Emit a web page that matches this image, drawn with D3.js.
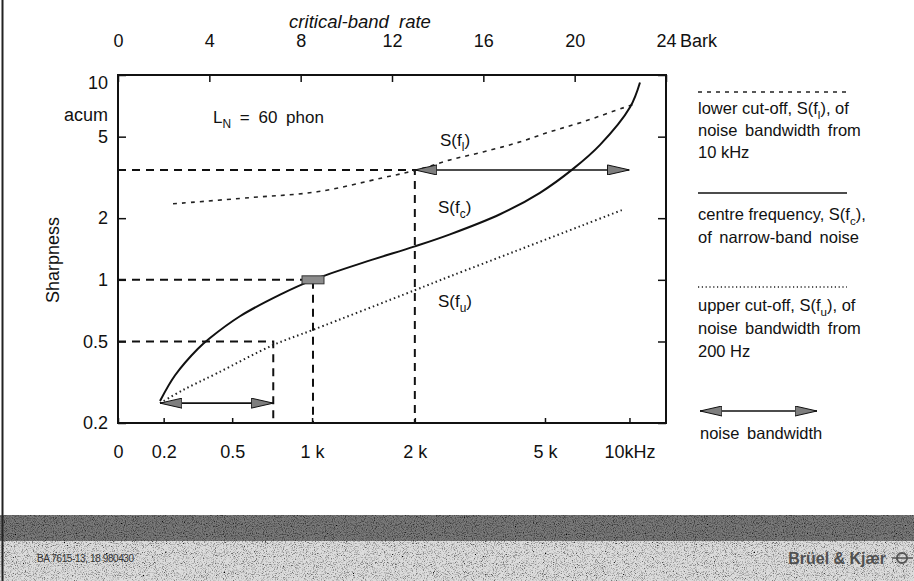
<!DOCTYPE html>
<html><head><meta charset="utf-8">
<script src="https://cdn.jsdelivr.net/npm/d3@7"></script>
<style>
html,body{margin:0;padding:0;background:#fff;}
svg{display:block;font-family:"Liberation Sans",Arial,Helvetica,sans-serif;}
</style></head>
<body><svg id="c" width="914" height="581"></svg>
<script>
// ---- data ----
const barkTicks = [0, 4, 8, 12, 16, 20, 24];
const freqTickLabels = ["0", "0.2", "0.5", "1 k", "2 k", "5 k", "10kHz"];
const freqTickBark = [0, 2, 5, 8.5, 13, 18.7, 22.4];
const sharpTicks = [0.2, 0.5, 1, 2, 5, 10];
const sharpTickLabels = ["0.2", "0.5", "1", "2", "5", "10"];

// centre frequency S(fc)
const fcBark  = [1.84, 2.5, 3.5, 4.03, 5.34, 7.1, 8.54, 10.9, 13.0, 14.54, 16.73, 18.48, 19.93, 21.11, 22.43, 22.86];
const fcSharp = [0.256, 0.342, 0.461, 0.52, 0.664, 0.847, 1.0, 1.23, 1.456, 1.667, 2.09, 2.66, 3.48, 4.56, 6.98, 9.2];
// lower cut-off S(fl)
const flBark  = [2.41, 5.78, 8.72, 11.6, 13.1, 14.54, 15.99, 17.48, 18.92, 20.37, 22.12, 22.6];
const flSharp = [2.35, 2.52, 2.69, 3.15, 3.44, 3.85, 4.21, 4.67, 5.28, 5.91, 6.91, 7.2];
// upper cut-off S(fu)
const fuBark  = [1.84, 2.85, 4.34, 6.79, 8.54, 13.0, 14.54, 17.48, 20.37, 22.12];
const fuSharp = [0.25, 0.29, 0.35, 0.48, 0.57, 0.89, 1.04, 1.39, 1.85, 2.2];

// reference (dashed) readings: [bark, sharpness]
const refPoints = [[13.0, 3.44], [8.54, 1.0], [6.8, 0.5]];
// noise bandwidth arrows: [barkFrom, barkTo, sharpness]
const bandArrows = [[13.0, 22.4, 3.44], [1.84, 6.8, 0.25]];
const markerPoint = [8.54, 1.0];

// ---- scales ----
const svg = d3.select("#c");
const x = d3.scaleLinear().domain([0, 24]).range([118, 666]);
const y = d3.scaleLog().domain([0.2, 10]).range([423, 75]);
const FONT_AX = 18;

// defs: arrow markers, noise filters
const defs = svg.append("defs");
defs.append("marker").attr("id", "ah").attr("viewBox", "0 0 22 11")
  .attr("refX", 22).attr("refY", 5.5).attr("markerWidth", 22).attr("markerHeight", 11)
  .attr("markerUnits", "userSpaceOnUse").attr("orient", "auto-start-reverse")
  .append("path").attr("d", "M0,0.5 L22,5.5 L0,10.5 Z")
  .attr("fill", "#7e7e7e").attr("stroke", "#111").attr("stroke-width", 1);
function noiseFilter(id, freq, seed, a, b) {
  const f = defs.append("filter").attr("id", id).attr("x", 0).attr("y", 0).attr("width", 1).attr("height", 1);
  f.append("feTurbulence").attr("type", "fractalNoise").attr("baseFrequency", freq).attr("numOctaves", 2).attr("seed", seed).attr("result", "t");
  f.append("feColorMatrix").attr("in", "t").attr("type", "matrix")
    .attr("values", `0 0 0 0 0  0 0 0 0 0  0 0 0 0 0  0 0 0 ${a} ${b}`).attr("result", "m");
  f.append("feComposite").attr("in", "m").attr("in2", "SourceGraphic").attr("operator", "in").attr("result", "n");
  f.append("feMerge").call(s => { s.append("feMergeNode").attr("in", "SourceGraphic"); s.append("feMergeNode").attr("in", "n"); });
}
noiseFilter("noise", 0.9, 3, 2.2, -0.9);
noiseFilter("noise2", 1.1, 7, 2.6, -1.25);

// ---- footer ----
svg.append("rect").attr("x", 0).attr("y", 515).attr("width", 914).attr("height", 26)
  .attr("fill", "#7a7a7a").attr("filter", "url(#noise)");
svg.append("rect").attr("x", 0).attr("y", 541).attr("width", 914).attr("height", 40)
  .attr("fill", "#dcdcdc").attr("filter", "url(#noise2)");
svg.append("text").attr("x", 37).attr("y", 562).attr("font-size", 10).attr("fill", "#333")
  .attr("letter-spacing", -0.4).text("BA 7615-13, 18   980430");
svg.append("text").attr("x", 886).attr("y", 564).attr("text-anchor", "end").attr("font-size", 16).attr("font-weight", "bold")
  .attr("fill", "#505050").text("Brüel & Kjær");
svg.append("circle").attr("cx", 902).attr("cy", 558).attr("r", 5).attr("fill", "none").attr("stroke", "#555").attr("stroke-width", 2);
svg.append("line").attr("x1", 892).attr("x2", 913).attr("y1", 558).attr("y2", 558).attr("stroke", "#555").attr("stroke-width", 1.5);
// left page edge
svg.append("line").attr("x1", 2.5).attr("x2", 2.5).attr("y1", 0).attr("y2", 581).attr("stroke", "#222").attr("stroke-width", 2);

// ---- axes ----
const gL = svg.append("g").attr("transform", `translate(${x(0)},0)`)
  .call(d3.axisLeft(y).tickValues(sharpTicks).tickFormat((d, i) => sharpTickLabels[i])
    .tickSizeInner(-8).tickSizeOuter(0).tickPadding(10));
gL.selectAll("text").filter(d => d === 10).attr("transform", "translate(0,8)");
const gR = svg.append("g").attr("transform", `translate(${x(24)},0)`)
  .call(d3.axisRight(y).tickValues(sharpTicks).tickFormat("").tickSizeInner(-8).tickSizeOuter(0));
const gT = svg.append("g").attr("transform", `translate(0,${y(10)})`)
  .call(d3.axisTop(x).tickValues(barkTicks).tickSizeInner(-7).tickSizeOuter(0).tickPadding(28));
const gB = svg.append("g").attr("transform", `translate(0,${y(0.2)})`)
  .call(d3.axisBottom(x).tickValues(freqTickBark).tickFormat((d, i) => freqTickLabels[i])
    .tickSizeInner(-5).tickSizeOuter(0).tickPadding(22));
[gL, gR, gT, gB].forEach(g => {
  g.select(".domain").remove();
  g.selectAll("line").attr("stroke", "#111").attr("stroke-width", 1.5);
  g.selectAll("text").attr("font-size", FONT_AX).attr("fill", "#111")
    .attr("font-family", '"Liberation Sans",Arial,sans-serif');
});
svg.append("rect").attr("x", x(0)).attr("y", y(10)).attr("width", x(24) - x(0)).attr("height", y(0.2) - y(10))
  .attr("fill", "none").attr("stroke", "#111").attr("stroke-width", 2);

svg.append("text").attr("x", 680).attr("y", 47).attr("font-size", FONT_AX).attr("fill", "#111").text("Bark");
svg.append("text").attr("x", 360).attr("y", 28).attr("text-anchor", "middle").attr("font-size", 18.5)
  .attr("font-style", "italic").attr("word-spacing", 5).attr("fill", "#111").text("critical-band rate");
svg.append("text").attr("x", 108).attr("y", 121).attr("text-anchor", "end").attr("font-size", FONT_AX)
  .attr("fill", "#111").text("acum");
svg.append("text").attr("transform", "translate(59,260) rotate(-90)").attr("text-anchor", "middle")
  .attr("font-size", FONT_AX).attr("fill", "#111").text("Sharpness");

// ---- reference dashed lines ----
refPoints.forEach(([b, s]) => {
  svg.append("path").attr("d", `M${x(0)},${y(s)}H${x(b)}V${y(0.2)}`)
    .attr("fill", "none").attr("stroke", "#111").attr("stroke-width", 2).attr("stroke-dasharray", "8,6");
});

// ---- curves ----
const line = d3.line().x(d => x(d[0])).y(d => y(d[1])).curve(d3.curveCatmullRom.alpha(0.5));
svg.append("path").attr("d", line(d3.zip(flBark, flSharp))).attr("fill", "none")
  .attr("stroke", "#222").attr("stroke-width", 1.6).attr("stroke-dasharray", "4,5");
svg.append("path").attr("d", line(d3.zip(fuBark, fuSharp))).attr("fill", "none")
  .attr("stroke", "#222").attr("stroke-width", 2).attr("stroke-dasharray", "1.5,3");
svg.append("path").attr("d", line(d3.zip(fcBark, fcSharp))).attr("fill", "none")
  .attr("stroke", "#111").attr("stroke-width", 2);

// ---- bandwidth arrows ----
bandArrows.forEach(([b0, b1, s]) => {
  svg.append("line").attr("x1", x(b0)).attr("x2", x(b1)).attr("y1", y(s)).attr("y2", y(s))
    .attr("stroke", "#111").attr("stroke-width", 1.6)
    .attr("marker-start", "url(#ah)").attr("marker-end", "url(#ah)");
});
svg.append("rect").attr("x", x(markerPoint[0]) - 11).attr("y", y(markerPoint[1]) - 4)
  .attr("width", 22).attr("height", 8).attr("fill", "#8c8c8c").attr("stroke", "#333").attr("stroke-width", 1);

// ---- in-plot labels ----
function subText(xp, yp, main, sub, tail, fs) {
  const t = svg.append("text").attr("x", xp).attr("y", yp).attr("font-size", fs).attr("fill", "#111");
  t.append("tspan").text(main);
  t.append("tspan").attr("dy", 5).attr("font-size", fs * 0.7).text(sub);
  t.append("tspan").attr("dy", -5).text(tail);
  return t;
}
subText(213, 123, "L", "N", " = 60 phon", 17).attr("word-spacing", 4);
subText(440, 146, "S(f", "l", ")", 17);
subText(438, 213, "S(f", "c", ")", 17);
subText(438, 307, "S(f", "u", ")", 17);

// ---- legend ----
const LX = 698, LFS = 16.5;
svg.append("line").attr("x1", LX).attr("x2", 847).attr("y1", 92).attr("y2", 92)
  .attr("stroke", "#222").attr("stroke-width", 1.4).attr("stroke-dasharray", "4,5");
subText(LX, 114, "lower cut-off, S(f", "l", "), of", LFS);
svg.append("text").attr("x", LX).attr("y", 136).attr("font-size", LFS).attr("fill", "#111").attr("word-spacing", 3).text("noise bandwidth from");
svg.append("text").attr("x", LX).attr("y", 158).attr("font-size", LFS).attr("fill", "#111").text("10 kHz");

svg.append("line").attr("x1", LX).attr("x2", 847).attr("y1", 193).attr("y2", 193)
  .attr("stroke", "#111").attr("stroke-width", 1.6);
subText(LX, 220, "centre frequency, S(f", "c", "),", LFS);
svg.append("text").attr("x", LX).attr("y", 243).attr("font-size", LFS).attr("fill", "#111").attr("word-spacing", 3).text("of narrow-band noise");

svg.append("line").attr("x1", LX).attr("x2", 847).attr("y1", 287).attr("y2", 287)
  .attr("stroke", "#222").attr("stroke-width", 1.6).attr("stroke-dasharray", "1.2,2.6");
subText(LX, 311, "upper cut-off, S(f", "u", "), of", LFS);
svg.append("text").attr("x", LX).attr("y", 334).attr("font-size", LFS).attr("fill", "#111").attr("word-spacing", 3).text("noise bandwidth from");
svg.append("text").attr("x", LX).attr("y", 357).attr("font-size", LFS).attr("fill", "#111").text("200 Hz");

svg.append("line").attr("x1", 700).attr("x2", 817).attr("y1", 411).attr("y2", 411)
  .attr("stroke", "#111").attr("stroke-width", 1.6)
  .attr("marker-start", "url(#ah)").attr("marker-end", "url(#ah)");
svg.append("text").attr("x", 700).attr("y", 439).attr("font-size", LFS).attr("fill", "#111").attr("word-spacing", 3).text("noise bandwidth");
</script></body></html>
